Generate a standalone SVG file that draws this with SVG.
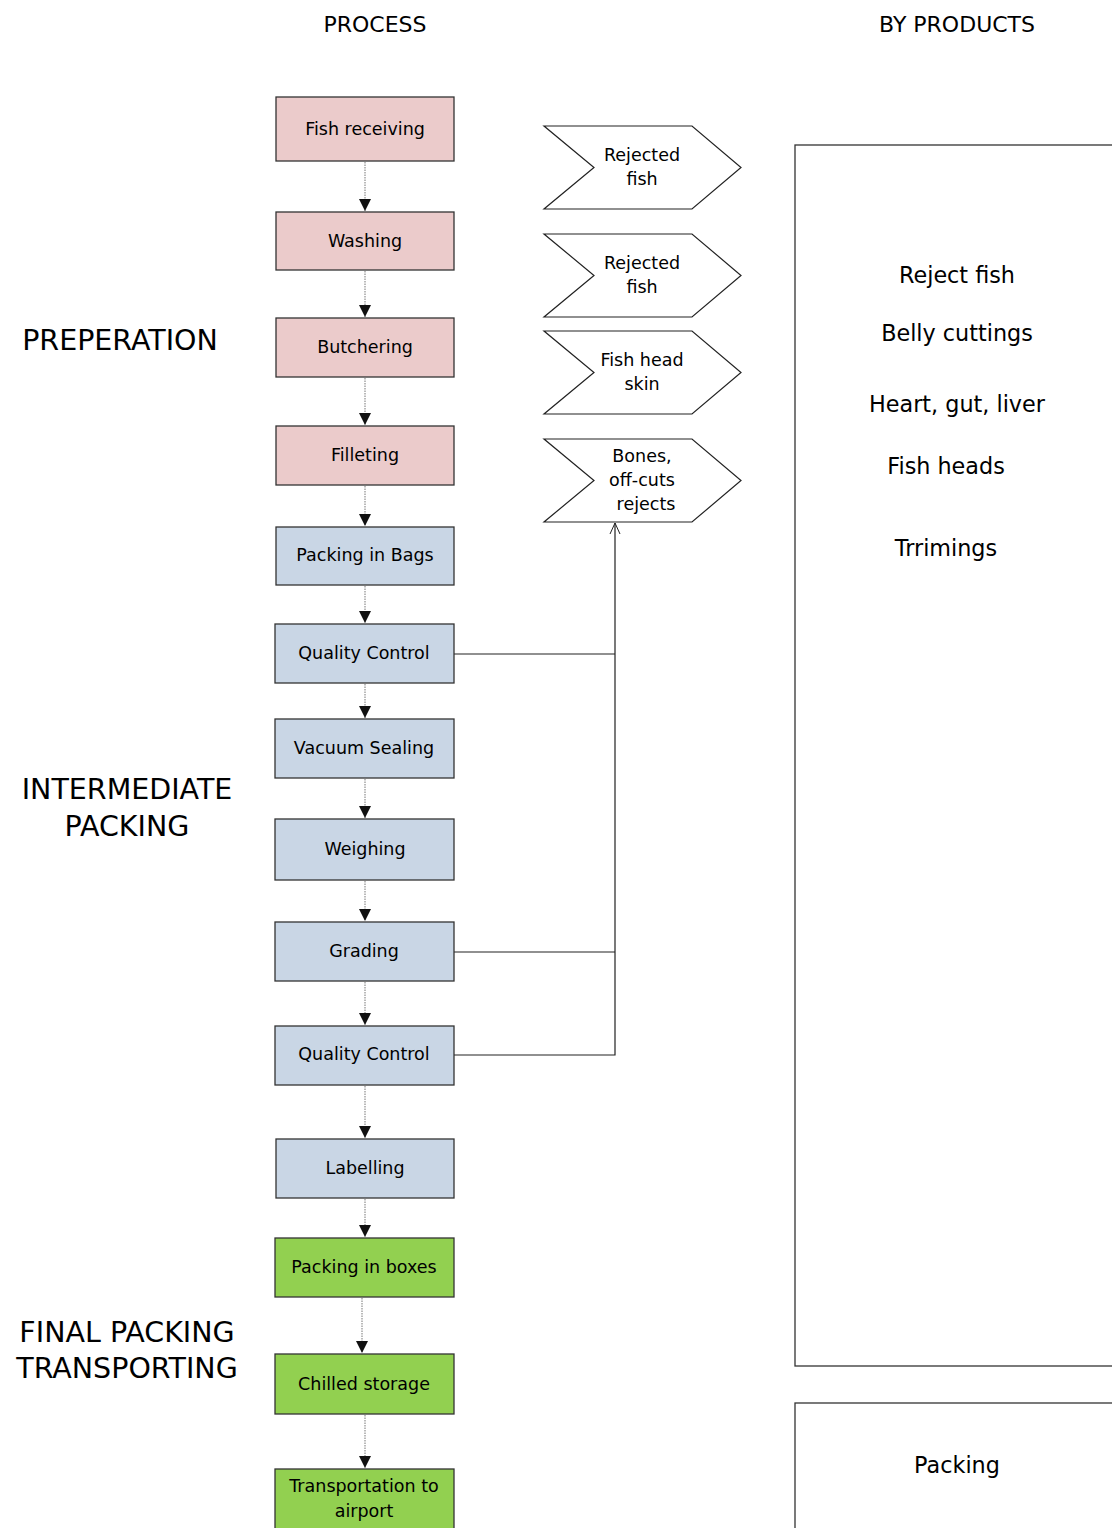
<svg xmlns="http://www.w3.org/2000/svg" width="1112" height="1528" viewBox="0 0 1112 1528">
<style>
text{font-family:"DejaVu Sans","Verdana",sans-serif;fill:#000;text-anchor:middle}
.box{stroke:#333;stroke-width:1.3}
.prep{fill:#ebcbcb}
.mid{fill:#c9d6e5}
.fin{fill:#92d050}
.bt{font-size:17.5px}
.chev{fill:#fff;stroke:#222;stroke-width:1.2}
.flow{stroke:#777;stroke-width:1;stroke-dasharray:1.5 1;fill:none}
.link{stroke:#222;stroke-width:1.2;fill:none}
.hdr{font-size:22px}
.sec{font-size:28.5px}
.bp{font-size:22.3px}
.bpbox{fill:none;stroke:#333;stroke-width:1.3}
</style>
<defs>
<marker id="ah" markerWidth="14" markerHeight="14" refX="12" refY="6" orient="auto" markerUnits="userSpaceOnUse">
<path d="M0,0 L12,6 L0,12 Z" fill="#111"/>
</marker>
<marker id="oa" markerWidth="12" markerHeight="12" refX="11" refY="6" orient="auto" markerUnits="userSpaceOnUse">
<path d="M0,1 L11,6 L0,11" fill="none" stroke="#222" stroke-width="1"/>
</marker>
</defs>
<rect width="1112" height="1528" fill="#fff"/>

<g id="headers">
<text class="hdr" x="375" y="32">PROCESS</text>
<text class="hdr" x="957" y="32">BY PRODUCTS</text>
</g>
<g id="sections">
<text class="sec" x="120" y="350">PREPERATION</text>
<text class="sec" x="127" y="799">INTERMEDIATE</text>
<text class="sec" x="127" y="836">PACKING</text>
<text class="sec" x="127" y="1342">FINAL PACKING</text>
<text class="sec" x="127" y="1378">TRANSPORTING</text>
</g>

<g id="connectors">
<line class="flow" x1="365" y1="162" x2="365" y2="211" marker-end="url(#ah)"/>
<line class="flow" x1="365" y1="271" x2="365" y2="317" marker-end="url(#ah)"/>
<line class="flow" x1="365" y1="378" x2="365" y2="425" marker-end="url(#ah)"/>
<line class="flow" x1="365" y1="486" x2="365" y2="526" marker-end="url(#ah)"/>
<line class="flow" x1="365" y1="586" x2="365" y2="623" marker-end="url(#ah)"/>
<line class="flow" x1="365" y1="684" x2="365" y2="718" marker-end="url(#ah)"/>
<line class="flow" x1="365" y1="779" x2="365" y2="818" marker-end="url(#ah)"/>
<line class="flow" x1="365" y1="881" x2="365" y2="921" marker-end="url(#ah)"/>
<line class="flow" x1="365" y1="982" x2="365" y2="1025" marker-end="url(#ah)"/>
<line class="flow" x1="365" y1="1086" x2="365" y2="1138" marker-end="url(#ah)"/>
<line class="flow" x1="365" y1="1199" x2="365" y2="1237" marker-end="url(#ah)"/>
<line class="flow" x1="362" y1="1298" x2="362" y2="1353" marker-end="url(#ah)"/>
<line class="flow" x1="365" y1="1415" x2="365" y2="1468" marker-end="url(#ah)"/>
<polyline class="link" points="454,1055 615,1055 615,523" marker-end="url(#oa)"/>
<line class="link" x1="454" y1="654" x2="615" y2="654"/>
<line class="link" x1="454" y1="952" x2="615" y2="952"/>
</g>

<g id="n-fish-receiving"><rect class="box prep" x="276" y="97" width="178" height="64"/><text class="bt" x="365" y="135">Fish receiving</text></g>
<g id="n-washing"><rect class="box prep" x="276" y="212" width="178" height="58"/><text class="bt" x="365" y="247">Washing</text></g>
<g id="n-butchering"><rect class="box prep" x="276" y="318" width="178" height="59"/><text class="bt" x="365" y="353">Butchering</text></g>
<g id="n-filleting"><rect class="box prep" x="276" y="426" width="178" height="59"/><text class="bt" x="365" y="461">Filleting</text></g>
<g id="n-packing-bags"><rect class="box mid" x="276" y="527" width="178" height="58"/><text class="bt" x="365" y="561">Packing in Bags</text></g>
<g id="n-qc1"><rect class="box mid" x="275" y="624" width="179" height="59"/><text class="bt" x="364" y="659">Quality Control</text></g>
<g id="n-vacuum"><rect class="box mid" x="275" y="719" width="179" height="59"/><text class="bt" x="364" y="754">Vacuum Sealing</text></g>
<g id="n-weighing"><rect class="box mid" x="275" y="819" width="179" height="61"/><text class="bt" x="365" y="855">Weighing</text></g>
<g id="n-grading"><rect class="box mid" x="275" y="922" width="179" height="59"/><text class="bt" x="364" y="957">Grading</text></g>
<g id="n-qc2"><rect class="box mid" x="275" y="1026" width="179" height="59"/><text class="bt" x="364" y="1060">Quality Control</text></g>
<g id="n-labelling"><rect class="box mid" x="276" y="1139" width="178" height="59"/><text class="bt" x="365" y="1174">Labelling</text></g>
<g id="n-packing-boxes"><rect class="box fin" x="275" y="1238" width="179" height="59"/><text class="bt" x="364" y="1273">Packing in boxes</text></g>
<g id="n-chilled"><rect class="box fin" x="275" y="1354" width="179" height="60"/><text class="bt" x="364" y="1390">Chilled storage</text></g>
<g id="n-transport"><rect class="box fin" x="275" y="1469" width="179" height="70"/><text class="bt" x="364" y="1492">Transportation to</text><text class="bt" x="364" y="1517">airport</text></g>

<g id="n-rej1"><polygon class="chev" points="544,126 692,126 741,167.5 692,209 544,209 594,167.5"/><text class="bt" x="642" y="161">Rejected</text><text class="bt" x="642" y="185">fish</text></g>
<g id="n-rej2"><polygon class="chev" points="544,234 692,234 741,275.5 692,317 544,317 594,275.5"/><text class="bt" x="642" y="269">Rejected</text><text class="bt" x="642" y="293">fish</text></g>
<g id="n-head"><polygon class="chev" points="544,331 692,331 741,372.5 692,414 544,414 594,372.5"/><text class="bt" x="642" y="366">Fish head</text><text class="bt" x="642" y="390">skin</text></g>
<g id="n-bones"><polygon class="chev" points="544,439 692,439 741,480.5 692,522 544,522 594,480.5"/><text class="bt" x="642" y="462">Bones,</text><text class="bt" x="642" y="486">off-cuts</text><text class="bt" x="646" y="510">rejects</text></g>

<g id="n-byproducts"><rect class="bpbox" x="795" y="145" width="330" height="1221"/>
<text class="bp" x="957" y="283">Reject fish</text>
<text class="bp" x="957" y="341">Belly cuttings</text>
<text class="bp" x="957" y="412">Heart, gut, liver</text>
<text class="bp" x="946" y="474">Fish heads</text>
<text class="bp" x="946" y="556">Trrimings</text>
</g>
<g id="n-packing"><rect class="bpbox" x="795" y="1403" width="330" height="140"/><text class="bp" x="957" y="1473">Packing</text></g>
</svg>
